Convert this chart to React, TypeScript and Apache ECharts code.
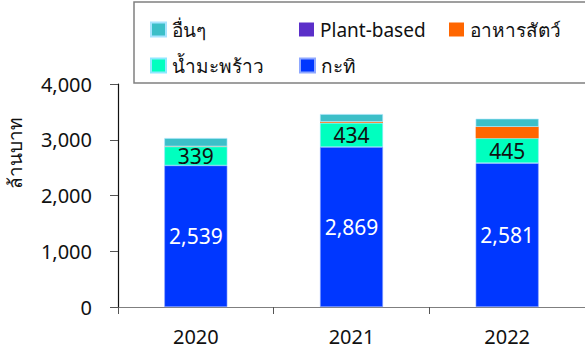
import React, { useEffect, useRef } from "react";
import * as echarts from "echarts";

const years = ["2020", "2021", "2022"];
const coconutMilk = [2539, 2869, 2581];
const coconutWater = [339, 434, 445];
const plantBased = [1, 2, 3];
const animalFeed = [3, 18, 203];
const others = [148, 137, 144];
const yTicks = { min: 0, max: 4000, interval: 1000 };

const FONT = "'Noto Sans', 'DejaVu Sans', sans-serif";

export default function App() {
  const ref = useRef<HTMLDivElement>(null);
  useEffect(() => {
    if (!ref.current) return;
    const chart = echarts.init(ref.current, null, { renderer: "svg" });
    const fmt = (p: any) => Number(p.value).toLocaleString("en-US");
    const legendBase = (name: string, left: number, top: number) => ({
      data: [name],
      left,
      top,
      itemWidth: 15,
      itemHeight: 14,
      itemGap: 0,
      icon: "rect",
      selectedMode: false,
      textStyle: { fontSize: 19, color: "#111", fontFamily: FONT, padding: [0, 0, 0, 1] },
    });
    chart.setOption({
      animation: false,
      textStyle: { fontFamily: FONT },
      grid: { left: 118, top: 84, bottom: 45, width: 470 },
      legend: [
        legendBase("อื่นๆ", 145, 15),
        legendBase("Plant-based", 294, 15),
        legendBase("อาหารสัตว์", 444, 15),
        legendBase("น้ำมะพร้าว", 145, 51),
        legendBase("กะทิ", 294, 51),
      ],
      graphic: [
        {
          type: "rect",
          shape: { x: 134, y: 2, width: 460, height: 81 },
          style: { fill: "none", stroke: "#808080", lineWidth: 1.5 },
          z: 0,
        },
        {
          type: "text",
          x: 15,
          y: 153,
          rotation: Math.PI / 2,
          style: {
            text: "ล้านบาท",
            fontSize: 19,
            fontFamily: FONT,
            fill: "#111",
            align: "center",
            verticalAlign: "middle",
          },
        },
      ],
      xAxis: {
        type: "category",
        data: years,
        axisLine: { lineStyle: { color: "#7f7f7f", width: 1.2 } },
        axisTick: { show: true, length: 7, lineStyle: { color: "#555" } },
        axisLabel: { fontSize: 20, color: "#111", margin: 19, fontFamily: FONT },
      },
      yAxis: {
        type: "value",
        min: yTicks.min,
        max: yTicks.max,
        interval: yTicks.interval,
        axisLine: { show: true, lineStyle: { color: "#111", width: 1.2 } },
        axisTick: { show: true, length: 8, lineStyle: { color: "#555" } },
        splitLine: { show: false },
        axisLabel: {
          fontSize: 20,
          color: "#111",
          margin: 26,
          fontFamily: FONT,
          formatter: (v: number) => v.toLocaleString("en-US"),
        },
      },
      series: [
        {
          name: "กะทิ",
          type: "bar",
          stack: "t",
          barWidth: 63,
          data: coconutMilk,
          itemStyle: { color: "#0037FF", borderColor: "#8fa8ff", borderWidth: 0.6 },
          label: { show: true, position: "inside", color: "#fff", fontSize: 21, formatter: fmt, fontFamily: FONT },
        },
        {
          name: "น้ำมะพร้าว",
          type: "bar",
          stack: "t",
          data: coconutWater,
          itemStyle: { color: "#00FFBF", borderColor: "#8fe8ff", borderWidth: 0.6 },
          label: { show: true, position: "inside", color: "#111", fontSize: 21, formatter: fmt, fontFamily: FONT },
        },
        {
          name: "Plant-based",
          type: "bar",
          stack: "t",
          data: plantBased,
          itemStyle: { color: "#5B2FC9" },
        },
        {
          name: "อาหารสัตว์",
          type: "bar",
          stack: "t",
          data: animalFeed,
          itemStyle: { color: "#FF6600" },
        },
        {
          name: "อื่นๆ",
          type: "bar",
          stack: "t",
          data: others,
          itemStyle: { color: "#3CBFC8", borderColor: "#a8e4ff", borderWidth: 0.6 },
        },
      ],
    });
    return () => chart.dispose();
  }, []);
  return (
    <div
      ref={ref}
      style={{ position: "fixed", left: 0, top: 0, width: 585, height: 352, background: "#fff" }}
    />
  );
}
